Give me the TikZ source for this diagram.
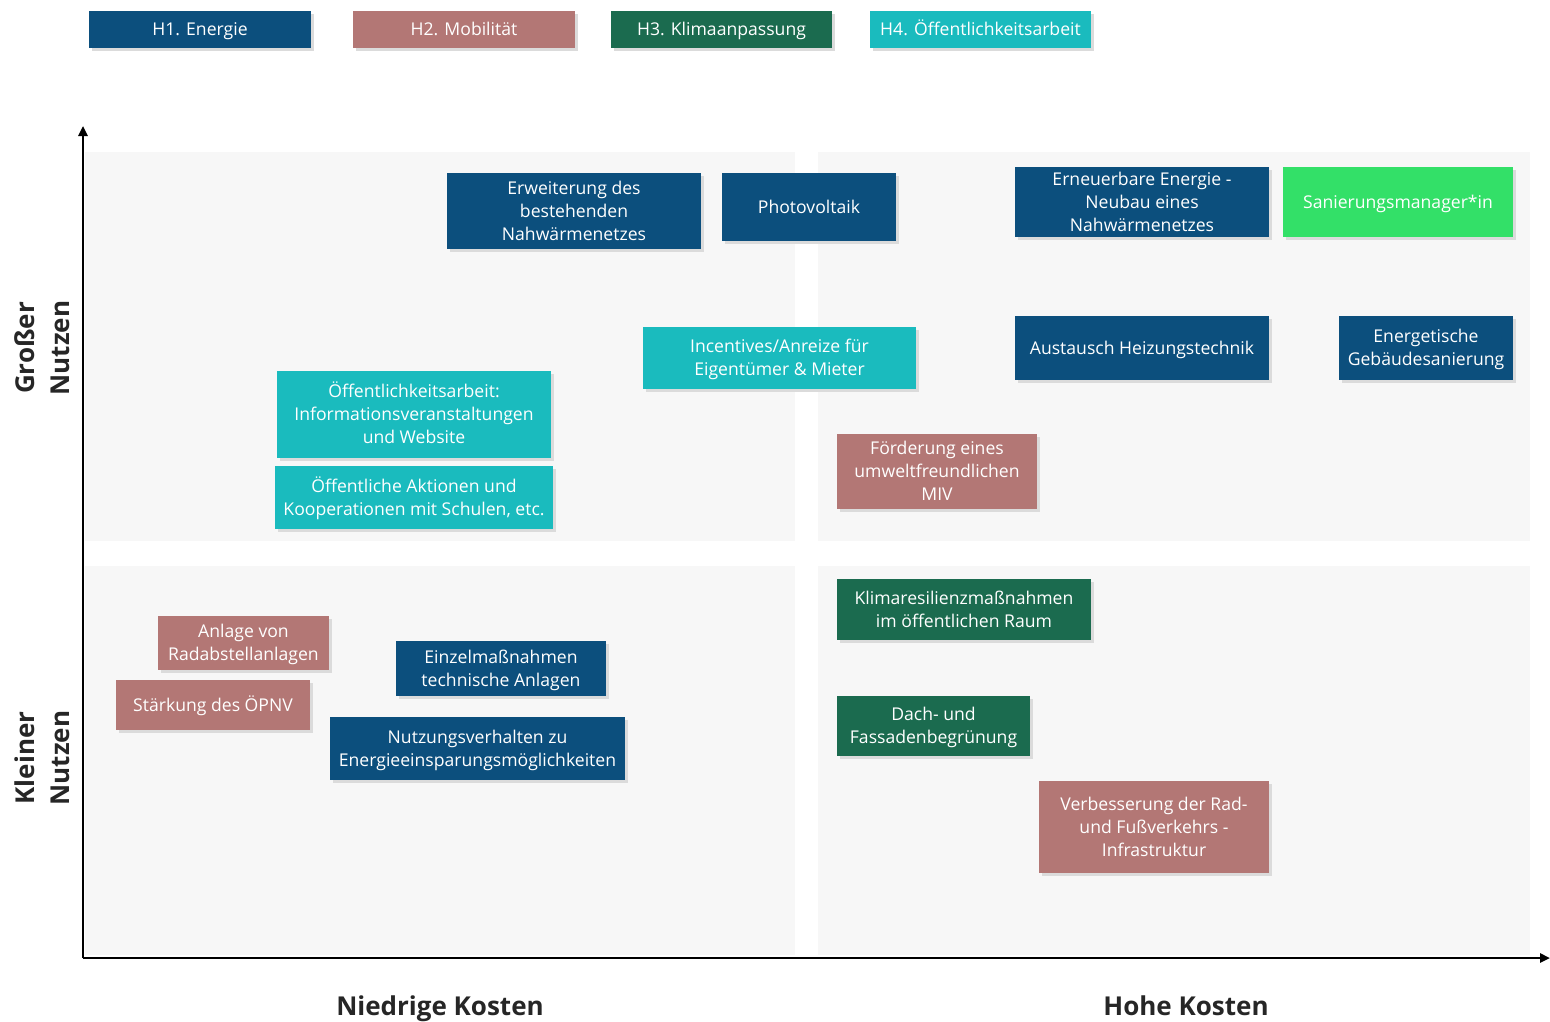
\documentclass[tikz,border=0pt]{standalone}
\usepackage{fontspec}
\setmainfont{Open Sans}
\usetikzlibrary{arrows.meta,shadows}
\definecolor{cblue}{HTML}{0C4F7D}
\definecolor{crose}{HTML}{B37775}
\definecolor{cgreen}{HTML}{1B6B4F}
\definecolor{cteal}{HTML}{1ABBBE}
\definecolor{cbright}{HTML}{33E068}
\definecolor{cbg}{HTML}{F7F7F7}
\newcommand\qbox[7]{%
  \node[qb, fill=#2, minimum width={#5-#3}, minimum height={#6-#4}] (#1) at ({(#3+#5)/2},{(#4+#6)/2}) {};
  \node[qt] (#1-t) at ([yshift=-0.3pt]#1.center) {\vphantom{Ög}#7\vphantom{g}};}
\begin{document}
\begin{tikzpicture}[x=1pt,y=-1pt,
  qb/.style={rectangle, inner sep=0pt,
    drop shadow={shadow xshift=3pt,shadow yshift=-3pt,fill=black!14,opacity=1}},
  qt/.style={inner sep=0pt, align=center, text=white,
    font=\fontsize{17.6}{23}\selectfont},
  quad/.style={fill=cbg, draw=none},
  axis/.style={line width=2.4pt, -{Triangle[length=10pt,width=9pt]}},
  lab/.style={font=\fontsize{26}{35}\selectfont\bfseries, text=black!85, align=center, inner sep=0pt}]
\useasboundingbox (0,0) rectangle (1550,1021);
% quadrants
\fill[quad] (85,152) rectangle (795,541);
\fill[quad] (818,152) rectangle (1530,541);
\fill[quad] (85,566) rectangle (795,955);
\fill[quad] (818,566) rectangle (1530,955);
% axes
\coordinate (O) at (83,958);
\coordinate (yt) at (83,126);
\coordinate (xr) at (1550,958);
\draw[axis] (O) -- (yt);
\draw[axis] (O) -- (xr);
% legend
\qbox{h1}{cblue}{89}{11}{311}{48}{H1. Energie}
\qbox{h2}{crose}{353}{11}{575}{48}{H2. Mobilität}
\qbox{h3}{cgreen}{611}{11}{832}{48}{H3. Klimaanpassung}
\qbox{h4}{cteal}{870}{11}{1091}{48}{H4. Öffentlichkeitsarbeit}
% top-left / top-right
\qbox{erw}{cblue}{447}{173}{701}{249}{Erweiterung des\\bestehenden\\Nahwärmenetzes}
\qbox{pv}{cblue}{722}{173}{896}{241}{Photovoltaik}
\qbox{ern}{cblue}{1015}{167}{1269}{237}{Erneuerbare Energie -\\Neubau eines\\Nahwärmenetzes}
\qbox{san}{cbright}{1283}{167}{1513}{237}{Sanierungsmanager*in}
\qbox{inc}{cteal}{643}{327}{916}{389}{Incentives/Anreize für\\Eigentümer \& Mieter}
\qbox{aus}{cblue}{1015}{316}{1269}{380}{Austausch Heizungstechnik}
\qbox{ene}{cblue}{1339}{316}{1513}{380}{Energetische\\Gebäudesanierung}
\qbox{oea}{cteal}{277}{371}{551}{458}{Öffentlichkeitsarbeit:\\Informationsveranstaltungen\\und Website}
\qbox{oak}{cteal}{275}{466}{553}{529}{Öffentliche Aktionen und\\Kooperationen mit Schulen, etc.}
\qbox{foe}{crose}{837}{434}{1037}{509}{Förderung eines\\umweltfreundlichen\\MIV}
% bottom
\qbox{kli}{cgreen}{837}{579}{1091}{640}{Klimaresilienzmaßnahmen\\im öffentlichen Raum}
\qbox{dac}{cgreen}{837}{696}{1030}{756}{Dach- und\\Fassadenbegrünung}
\qbox{ver}{crose}{1039}{781}{1269}{873}{Verbesserung der Rad-\\und Fußverkehrs -\\Infrastruktur}
\qbox{anl}{crose}{158}{616}{329}{670}{Anlage von\\Radabstellanlagen}
\qbox{sta}{crose}{116}{680}{310}{730}{Stärkung des ÖPNV}
\qbox{ein}{cblue}{396}{641}{606}{696}{Einzelmaßnahmen\\technische Anlagen}
\qbox{nut}{cblue}{330}{717}{625}{780}{Nutzungsverhalten zu\\Energieeinsparungsmöglichkeiten}
% axis labels
\node[lab, anchor=base] (lk) at (440,1015) {Niedrige Kosten};
\node[lab, anchor=base] (hk) at (1186,1015) {Hohe Kosten};
\node[lab, rotate=90] (gn) at (42,348) {Großer\\Nutzen};
\node[lab, rotate=90] (kn) at (42,758) {Kleiner\\Nutzen};
\end{tikzpicture}
\end{document}
